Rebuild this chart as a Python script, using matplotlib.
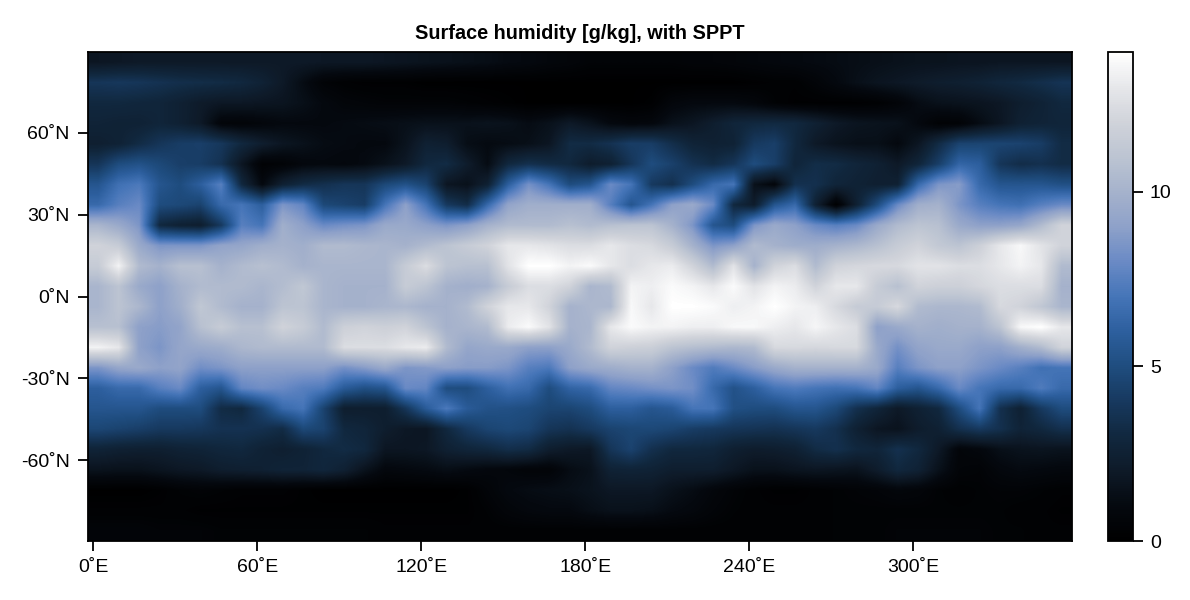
import numpy as np
import matplotlib
matplotlib.use("Agg")
import matplotlib.pyplot as plt
from matplotlib.colors import LinearSegmentedColormap

plt.rcParams['font.family'] = ['Liberation Sans', 'DejaVu Sans']

title = "Surface humidity [g/kg], with SPPT"
x_ticks = [0, 60, 120, 180, 240, 300]
x_labels = ["0˚E", "60˚E", "120˚E", "180˚E", "240˚E", "300˚E"]
y_ticks = [-60, -30, 0, 30, 60]
y_labels = ["-60˚N", "-30˚N", "0˚N", "30˚N", "60˚N"]
cbar_ticks = [0, 5, 10]
cmap_levels = [0, 1, 2, 3, 4, 5, 6, 7, 8, 9, 10, 11, 12, 13, 14]
cmap_colors = ["#000000", "#05090f", "#0e1a28", "#11283f", "#17395f", "#1f4d7f", "#2d5f9e", "#4575b8",
               "#6a8ac5", "#8ea1c9", "#a5b2cc", "#bcc4d2", "#d0d3da", "#e6e7ea", "#ffffff"]

r00 = [1.8,1.9,2,2,2,2,2,2,2,2,2,1.9,1.9,1.9,1.8,1.7,1.6,1.5,1.4,1.3,1.1,1,.8,.7,.5,.5,.5,.5,.5,.6,.6,.7,.8,.9,1,1.1,1.2,1.3,1.4,1.5,1.6,1.6,1.7,1.7,1.8,1.8,1.8,1.8]
r01 = [3.8,3.9,3.8,3.6,3.4,3.3,3.2,3,2.6,2,1.2,.5,.3,.2,.2,.2,.1,.1,.1,.1,.1,.1,.1,.1,.1,.1,.1,.1,.1,.1,.1,.1,.2,.3,.3,.6,1,1.4,1.7,1.9,2.1,2.3,2.4,2.6,2.9,3.1,3.4,3.7]
r02 = [3,3,2.9,2.8,2.5,2.1,1.9,1.9,1.8,1.7,1.4,1,.7,.6,.5,.5,.5,.5,.4,.3,.2,.1,.1,.1,.1,.1,.1,.2,.8,1,1,1,.8,.4,.2,.2,.2,.2,.3,.6,1.2,1.5,1.6,1.7,1.9,2.3,2.6,3]
r03 = [2.7,2.6,2.6,2.8,2.5,2,.7,.6,.8,1,1,1,1.1,1.2,1.3,1.4,1.5,1.5,1.5,1.6,1.5,1.2,1.5,2,1.6,1,.8,.9,1.5,1.8,2.3,2.8,3,3.1,3,2.5,2,1.7,1.6,1.5,1,.4,.5,1.2,1.8,2.5,2.7,2.8]
r04 = [2.4,2.6,3.2,3.8,4.2,4.3,3.9,3,2.3,1.8,1.5,1.2,1.1,1,1,1.6,2.5,2.3,1.3,1.1,1.2,1.4,1.8,3.2,3.2,3.6,4.2,4.2,3.4,2.7,2.5,2.6,4,4.3,3,2,1.6,1.4,1.4,1,1.8,3.2,4.5,4.6,4.6,4.5,4.2,3.2]
r05 = [3.8,5,5.3,4.8,4.3,4.2,3.6,1.8,.4,.5,.9,1,.9,1.1,1.5,2,3,3.2,2.2,1.2,3,3.5,3.2,3,2.2,2.5,3.8,5,4.4,3.6,3.2,3.8,5,4.3,2.8,3.3,3.2,2.8,2.5,2,2.8,4.3,6.3,6,3.8,3.3,3.5,3.2]
r06 = [5.5,6.8,7.2,5.5,5,6,7.5,3,1,2.5,3.2,3.5,3.8,3.8,4.8,5.3,4.5,1.8,1.5,2.5,6,8.3,7,5,5.5,8,7,4,3.5,5,6.5,7,1.5,.8,3.5,3.5,2.8,2.6,2.4,2.5,6.5,8.5,8.8,6.5,5.5,5.5,5.5,5.2]
r07 = [6.5,7.5,8,5,4.8,4.5,6.5,7,6,8.5,7.8,4.8,4.5,4.2,7,9,7,4,3.3,6.5,9.2,9.8,9.8,9.8,9.8,7.5,5.5,7,9,9.5,8,3,2.2,5.5,6.5,2.5,.2,2.5,5,8,9.8,10,8.5,7.5,7,6.8,7.5,8]
r08 = [10.2,9.5,8.5,3,2.5,2.3,4,7.5,7,9.8,9,8,8.3,8.5,9.5,9.5,9,8.5,9,10,10.5,10.5,10.5,10.8,10.5,10.8,11,11,10,8.5,5.5,5,8.5,9.5,9,8,7.5,8,9.5,10.5,11,10.8,9.5,9,9,9.3,10.5,12]
r09 = [12,11.5,9.5,8.5,8.5,8.5,9.2,9.3,9.8,10,9.8,10.5,10.5,10.3,10.2,10,10.5,11,11.5,12,13,13,12.8,12.5,12.5,13,12.5,12.3,11.5,10,8.5,9,10.5,10,9.7,9.7,10,10.3,10.8,11.5,12,11.3,11,11.8,13,13.7,12.8,12]
r10 = [11.5,13.5,10.5,10,10.8,10.8,10,10.5,10.8,10.5,10,10.2,10.2,10.2,10.2,11.5,12.5,11,10.8,10.8,12.8,14,14,13.5,13.8,13,12.5,13,13.2,12,10.5,12.8,10,12,12.5,10.5,12,12.2,12.3,12.3,12.8,12.8,12.5,12.5,13,13.5,13,10.5]
r11 = [10.2,11,9.5,9,10,10.5,10.5,10.5,10.2,10.6,11.2,10.2,10,10,10,11.5,11,10,9.8,10,11.5,12.5,12.5,12,10.2,10.5,13.5,13.3,13.8,13.5,13,13.8,12.8,13.5,13.2,12,13,13,11.5,10.8,12,11.8,11.8,12.2,12.5,12.5,12.5,10]
r12 = [10.2,11,10.3,9,9.8,11.2,10.5,10,10,11,11,10.2,10,10,10.2,10.3,10,10,10.5,12,13,13,12,10,10.3,10.3,13.7,13,14,14,13.8,13.3,13.5,14,13.5,13.3,12.3,11.5,11.5,12.3,10.5,10.3,10.3,10.5,12.3,12,11.2,10.2]
r13 = [10.8,10.8,9,8.8,9.2,10.8,11.5,10.8,10.8,12,11.5,10.5,11.8,12,11.8,12,11,10,10.2,10.5,13.2,13.8,12.8,10,10.2,13,13.8,13.5,13.5,13.3,13.3,13.7,13.7,13.3,13,13.6,13,12.5,9,9.5,10,9.8,10,10,11,13.7,14,13]
r14 = [13.5,13,9,8.5,9.3,9.5,9.7,10.3,10.5,10.5,10.5,10.5,12.5,12.5,12.5,13,13.2,10.5,9.3,9.5,9.5,9,9,9.5,10.5,12,11.8,11.7,11,10.7,10.5,10.3,10.5,12.3,12.3,12.2,12.3,12.3,9.5,8.3,9.2,9.5,9.5,9,9,9.8,10.5,12]
r15 = [8.5,9.3,9.5,9,9.2,8.2,8.5,9,9,9,9,9,8.3,8.8,9.5,8.5,8.7,9,8.8,8.8,8.5,7.5,7.2,9,9.5,9.7,10,10,9,8,7.3,8,8.8,9.5,10,10,10,10,9.5,7.5,8.5,9,9,8.5,8,7.5,6.8,7]
r16 = [6,6.5,6.5,7.5,8,6,5.5,7.8,8.2,8,7.5,7.3,5.8,5.2,5.5,8,7.8,5,5,6,6.8,6.5,5,6.2,6.5,7.8,8,8.3,8.5,8.2,6.5,5.3,6,7,7.3,7,6.8,7,7.8,6,5.5,6.5,8,7,6.5,6.5,7.3,6.5]
r17 = [5.5,5.5,5.5,5,5,5,3.2,3,4.5,6.5,7,4.5,2.3,2.3,2.3,3.8,5.8,7.2,5.8,5.3,5.2,5,4.6,4.6,5,6,6,5.5,5.8,7,7,5.2,5,5,5.5,5.5,4.8,3.5,2.8,2,2.5,3,5,7,3.5,2.5,4,5]
r18 = [4.7,4.5,4.3,4,4,3.9,3.6,3.6,3.5,3.2,4.8,4.5,3,2.8,2.3,1.9,1.8,3,4,4.6,4.8,4.6,3.8,3.6,4,4.5,4.7,4.8,4.6,4.2,4,3.8,3.7,3.6,3.8,4,3.5,2.5,1.8,1.6,2.2,2.5,3.5,4,3.5,2.7,3,3.5]
r19 = [2.7,2.5,2.4,2.4,2.6,2.7,2.9,3,2.6,2.4,2.6,3,3.2,3,1.8,1.8,1.9,2.5,2.8,3,3.4,3.2,2.3,2,1.9,3.8,4.5,3.5,3,3,2.9,2.4,2.2,2.3,2.5,3.2,3.5,3,2.8,3.5,3,2,.7,.9,1.4,1.6,1.7,1.6]
r20 = [1.6,1.5,1.5,1.7,1.9,2,2.3,2.4,2.5,2.7,2.7,2.9,2.5,1.6,.9,1,1.1,1.3,1.1,.9,.8,.6,.6,1.2,1.5,2.6,2.7,2.6,2.3,2.3,2.3,1.9,1.5,1.5,1.7,1.8,1.7,1.6,2.2,3,2.6,1.5,.6,.5,.9,1.1,1,.9]
r21 = [.1,.1,.1,.2,.4,.5,.4,.3,.3,.3,.2,.1,.1,.1,.1,.1,.1,.1,.2,.6,1,1.2,1.3,1.4,1.6,1.9,1.9,1.9,1.5,1.2,.8,.5,.3,.2,.2,.3,.4,.5,.6,.8,.7,.4,.3,.4,.5,.5,.4,.3]
r22 = [.3,.3,.3,.3,.3,.2,.2,.2,.2,.2,.2,.2,.2,.2,.2,.2,.2,.2,.2,.4,.7,.9,1,1,1.3,1.5,1.5,1.4,1.1,.9,.6,.4,.3,.3,.3,.3,.4,.4,.4,.4,.4,.4,.4,.4,.4,.3,.3,.2]
r23 = [.6,.6,.6,.5,.5,.5,.4,.4,.4,.4,.4,.4,.4,.4,.3,.3,.3,.3,.3,.3,.3,.3,.3,.3,.3,.3,.3,.3,.3,.3,.3,.3,.3,.3,.3,.3,.4,.4,.4,.5,.5,.5,.5,.5,.4,.4,.3,.3]

rows = [r00, r01, r02, r03, r04, r05, r06, r07, r08, r09, r10, r11,
        r12, r13, r14, r15, r16, r17, r18, r19, r20, r21, r22, r23]
humidity = np.array(rows, dtype=float)

vmin, vmax = 0, 14
cmap = LinearSegmentedColormap.from_list(
    "oslo_like", [(l / vmax, c) for l, c in zip(cmap_levels, cmap_colors)], N=256)

W, H = 1190, 600
fig = plt.figure(figsize=(W / 100, H / 100), dpi=100)
ax = fig.add_axes([88 / W, 1 - 541 / H, (1072 - 88) / W, (541 - 52) / H])
im = ax.imshow(humidity, cmap=cmap, vmin=vmin, vmax=vmax, aspect='auto',
               extent=[-1.875, 358.125, -89.6, 89.6], interpolation='bilinear')
ax.set_xlim(-1.875, 358.125)
ax.set_ylim(-89.6, 89.6)
ax.set_xticks(x_ticks, x_labels)
ax.set_yticks(y_ticks, y_labels)
ax.tick_params(length=7.2, width=1.3, labelsize=14, pad=6, color='black')
for s in ax.spines.values():
    s.set_linewidth(1.3)
ax.set_title(title, fontsize=14.3, fontweight='bold', pad=9.4)

cax = fig.add_axes([1108 / W, 1 - 541 / H, (1133 - 1108) / W, (541 - 52) / H])
cb = fig.colorbar(im, cax=cax)
cb.set_ticks(cbar_ticks)
cb.ax.tick_params(length=7.2, width=1.3, labelsize=14, pad=5)
cb.outline.set_linewidth(1.3)
fig.savefig("out.png", dpi=100)
